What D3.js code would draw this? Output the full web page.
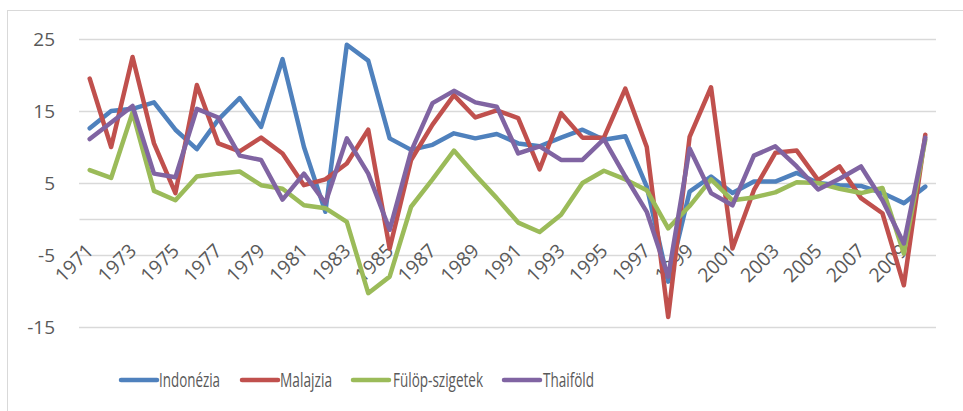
<!DOCTYPE html>
<html>
<head>
<meta charset="utf-8">
<script src="https://cdn.jsdelivr.net/npm/d3@7"></script>
<style>
html,body{margin:0;padding:0;background:#fff;}
svg{display:block;}
text{font-family:"Open Sans","Noto Sans",sans-serif;fill:#595959;}
</style>
</head>
<body>
<svg id="chart" width="963" height="411"></svg>
<script>
const years = d3.range(1971, 2011);
const tickYears = d3.range(1971, 2011, 2);
const yTicks = [-15, -5, 5, 15, 25];
const seriesNames = ["Indonézia", "Malajzia", "Fülöp-szigetek", "Thaiföld"];
const indonesia = [12.6,15.0,15.3,16.2,12.4,9.7,13.8,16.8,12.8,22.2,10.0,1.0,24.2,22.0,11.2,9.6,10.3,11.9,11.2,11.8,10.5,10.1,11.3,12.4,11.0,11.5,4.5,-8.7,3.8,5.9,3.6,5.2,5.2,6.4,5.0,4.7,4.6,3.6,2.2,4.5];
const malaysia = [19.5,10.0,22.5,10.5,3.6,18.6,10.5,9.4,11.3,9.1,4.7,5.5,7.7,12.4,-4.1,8.2,13.1,17.2,14.1,15.1,14.0,6.9,14.7,11.3,11.3,18.1,10.0,-13.6,11.4,18.3,-4.1,4.0,9.2,9.5,5.4,7.3,2.9,0.8,-9.2,11.7];
const philippines = [6.8,5.7,14.8,3.9,2.6,5.9,6.3,6.6,4.7,4.2,1.9,1.5,-0.4,-10.3,-8.0,1.7,5.5,9.5,6.1,2.9,-0.5,-1.8,0.6,5.0,6.7,5.5,4.0,-1.3,1.8,5.5,2.6,3.0,3.7,5.1,5.0,4.2,3.6,4.3,-4.8,11.0];
const thailand = [11.1,13.4,15.7,6.3,5.8,15.3,14.1,8.8,8.2,2.7,6.3,2.2,11.2,6.3,-1.5,9.4,16.1,17.8,16.2,15.6,9.1,10.1,8.2,8.2,11.1,5.9,1.0,-8.0,9.8,3.6,1.9,8.8,10.1,7.3,4.1,5.6,7.3,2.6,-3.4,11.3];
const colors = ["#4F81BD", "#C0504D", "#9BBB59", "#8064A2"];

const series = [indonesia, malaysia, philippines, thailand].map((vals, i) => ({
  name: seriesNames[i], color: colors[i],
  values: vals.map((v, j) => ({year: years[j], value: v}))
}));

const svg = d3.select("#chart");
const plotLeft = 79, plotRight = 936, plotTop = 39, plotBottom = 327;

// outer frame
svg.append("rect").attr("x", 7.5).attr("y", 10.5).attr("width", 1000).attr("height", 500)
  .attr("fill", "none").attr("stroke", "#d9d9d9").attr("stroke-width", 1);

const x = d3.scaleBand().domain(years).range([plotLeft, plotRight]).paddingInner(0).paddingOuter(0);
const cx = d => x(d) + x.bandwidth() / 2;
const y = d3.scaleLinear().domain([-15, 25]).range([plotBottom, plotTop]);

// gridlines
const grid = svg.append("g").attr("transform", `translate(${plotLeft},0)`)
  .call(d3.axisLeft(y).tickValues(yTicks).tickSize(-(plotRight - plotLeft)).tickFormat(""));
grid.select(".domain").remove();
grid.selectAll("line").attr("stroke", "#d9d9d9").attr("stroke-width", 1.3);

// y labels
const yAxis = svg.append("g").attr("transform", `translate(${plotLeft},0)`)
  .call(d3.axisLeft(y).tickValues(yTicks).tickSize(0).tickPadding(24).tickFormat(d => String(d)));
yAxis.select(".domain").remove();
yAxis.selectAll("text").attr("font-size", "19px").attr("fill", "#595959")
  .style("font-family", '"Open Sans","Noto Sans",sans-serif');

// x axis at zero
const xAxisG = svg.append("g").attr("transform", `translate(0,${y(0)})`)
  .call(d3.axisBottom(x).tickValues(tickYears).tickSize(0).tickFormat(d => String(d)));
xAxisG.select(".domain").attr("stroke", "#d9d9d9").attr("stroke-width", 1.3);
xAxisG.selectAll("text")
  .attr("font-size", "19.5px").attr("fill", "#595959")
  .style("font-family", '"Open Sans","Noto Sans",sans-serif')
  .attr("text-anchor", "end").attr("dy", null).attr("y", null)
  .attr("transform", `translate(5,33) rotate(-45)`);

// lines
const line = d3.line().x(d => cx(d.year)).y(d => y(d.value));
svg.append("g").selectAll("path").data(series).join("path")
  .attr("d", d => line(d.values))
  .attr("fill", "none").attr("stroke", d => d.color).attr("stroke-width", 4.5)
  .attr("stroke-linejoin", "round").attr("stroke-linecap", "round");

// legend
const legendX = [121, 242, 353, 504];
const legendTextX = [159, 280, 393, 543];
const legendTextW = [61, 52, 90, 51];
const lg = svg.append("g");
series.forEach((s, i) => {
  lg.append("line").attr("x1", legendX[i]).attr("x2", legendX[i] + 36)
    .attr("y1", 380).attr("y2", 380).attr("stroke", s.color).attr("stroke-width", 4.5)
    .attr("stroke-linecap", "round");
  lg.append("text").attr("x", legendTextX[i]).attr("y", 387)
    .attr("font-size", "20px").attr("textLength", legendTextW[i])
    .attr("lengthAdjust", "spacingAndGlyphs").text(s.name);
});
</script>
</body>
</html>
